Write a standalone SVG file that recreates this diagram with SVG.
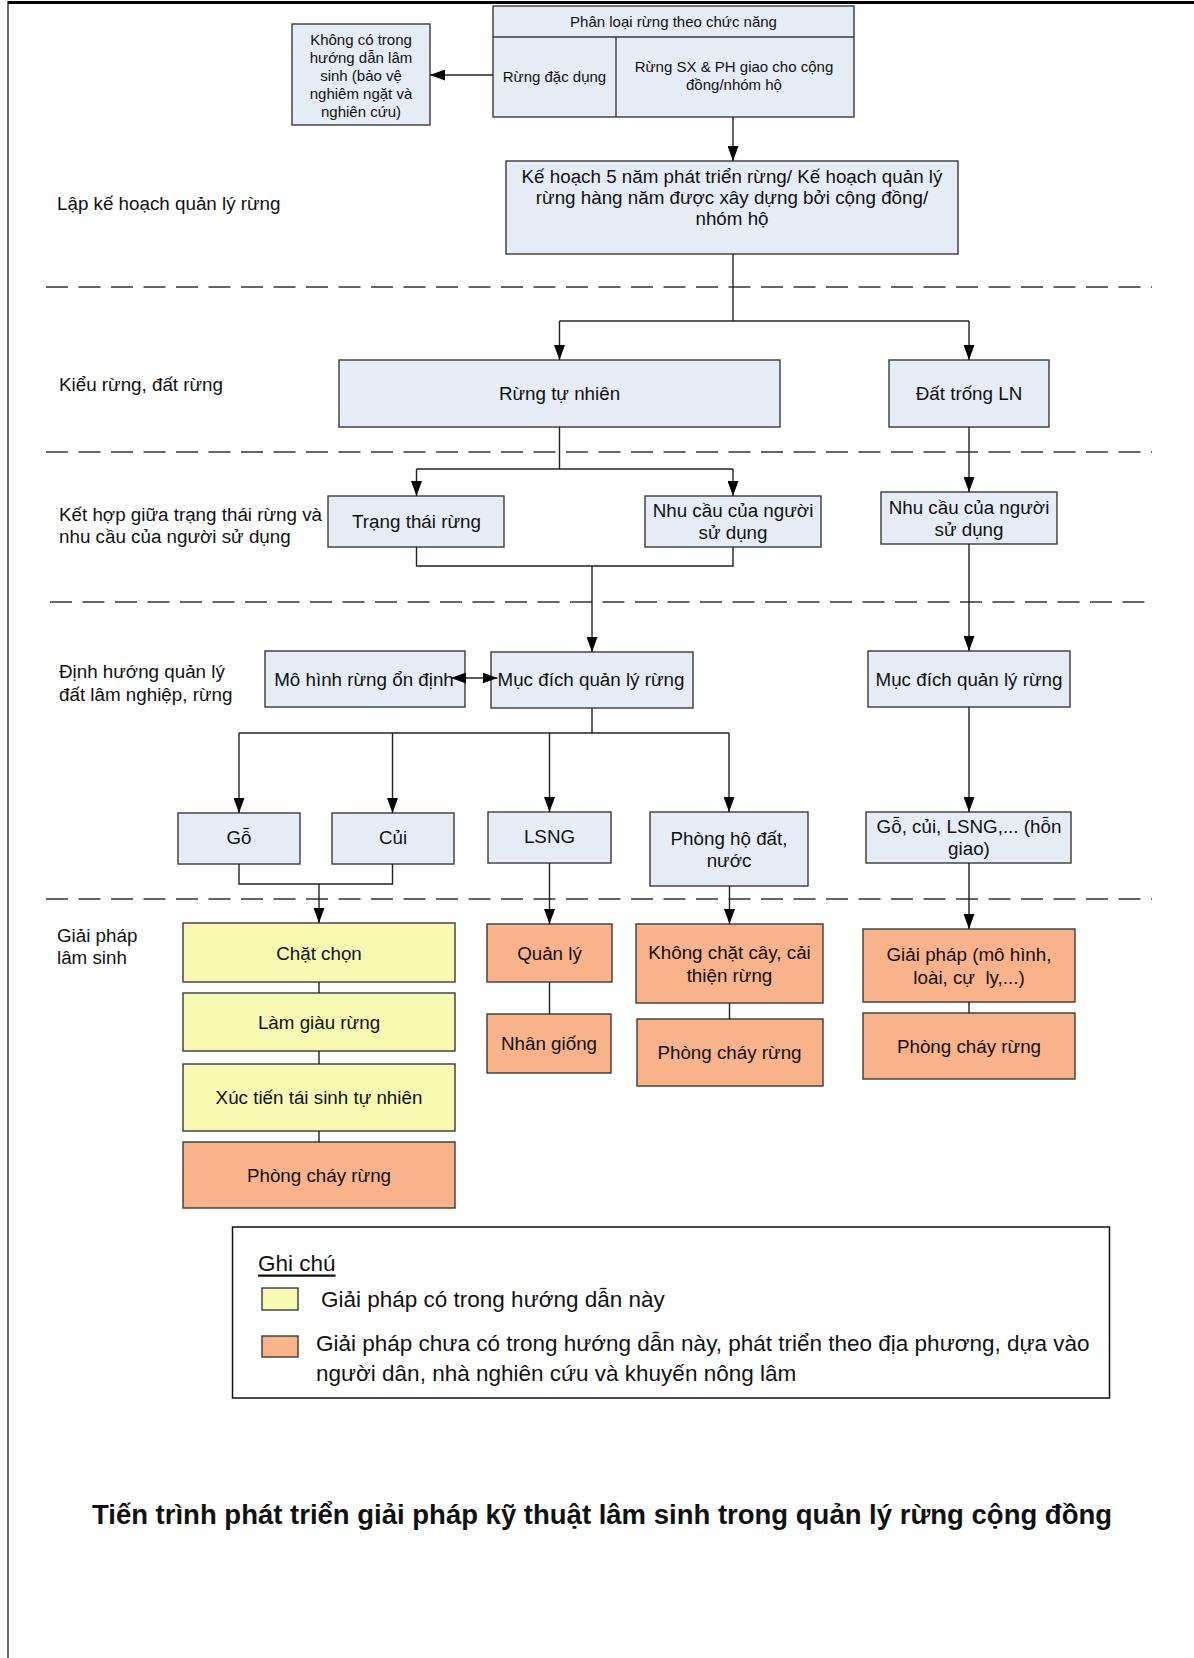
<svg xmlns="http://www.w3.org/2000/svg" width="1194" height="1658" viewBox="0 0 1194 1658">
<defs>
<style>
text{font-family:"Liberation Sans",Arial,sans-serif;fill:#111;}
.t{font-size:18.8px;text-anchor:middle;dominant-baseline:central;}
.s{font-size:15px;text-anchor:middle;dominant-baseline:central;}
.side{font-size:18.8px;dominant-baseline:central;}
.leg{font-size:22.5px;dominant-baseline:central;}
.title{font-size:27.5px;font-weight:bold;text-anchor:middle;dominant-baseline:central;}
.pre{white-space:pre;}
.b{fill:#E6ECF6;stroke:#3a3a3a;stroke-width:1.4;}
.y{fill:#F7F8B2;stroke:#3a3a3a;stroke-width:1.4;}
.o{fill:#F8B38A;stroke:#3a3a3a;stroke-width:1.4;}
.c{fill:none;stroke:#222;stroke-width:1.4;}
.a{marker-end:url(#ah);}
.dash{stroke:#333;stroke-width:1.5;stroke-dasharray:22 10.5;fill:none;}
</style>
<marker id="ah" markerUnits="userSpaceOnUse" markerWidth="15" markerHeight="11" refX="15" refY="5.5" orient="auto-start-reverse">
<path d="M0,0 L15,5.5 L0,11 z" fill="#000"/>
</marker>
</defs>
<rect x="0" y="0" width="1194" height="1658" fill="#fff"/>
<!-- frame -->
<line x1="8" y1="2.5" x2="1194" y2="2.5" stroke="#000" stroke-width="3"/>
<line x1="8" y1="1" x2="8" y2="1658" stroke="#000" stroke-width="1.2"/>

<!-- dashed separators -->
<g id="separators">
<line class="dash" x1="46" y1="287" x2="1152" y2="287"/>
<line class="dash" x1="46" y1="452" x2="1152" y2="452"/>
<line class="dash" x1="50" y1="602" x2="1152" y2="602"/>
<line class="dash" x1="46" y1="899" x2="1152" y2="899"/>
</g>

<!-- side labels -->
<g id="side-labels">
<text class="side" x="57" y="203">Lập kế hoạch quản lý rừng</text>
<text class="side" x="59" y="384">Kiểu rừng, đất rừng</text>
<text class="side" x="59" y="514">Kết hợp giữa trạng thái rừng và</text>
<text class="side" x="59" y="536">nhu cầu của người sử dụng</text>
<text class="side" x="59" y="671">Định hướng quản lý</text>
<text class="side" x="59" y="694">đất lâm nghiệp, rừng</text>
<text class="side" x="57" y="935">Giải pháp</text>
<text class="side" x="57" y="957">lâm sinh</text>
</g>

<!-- nodes -->
<g id="phan-loai">
<rect class="b" x="493" y="6" width="361" height="111"/>
<line x1="493" y1="37" x2="854" y2="37" stroke="#3a3a3a" stroke-width="1.4"/>
<line x1="616" y1="37" x2="616" y2="117" stroke="#3a3a3a" stroke-width="1.4"/>
<text class="s" x="673.5" y="21.5">Phân loại rừng theo chức năng</text>
<text class="s" x="554.5" y="76">Rừng đặc dụng</text>
<text class="s" x="734" y="66.5">Rừng SX &amp; PH giao cho cộng</text>
<text class="s" x="734" y="84.5">đồng/nhóm hộ</text>
</g>
<g id="khong-co">
<rect class="b" x="292" y="24" width="138" height="101"/>
<text class="s" x="361" y="39">Không có trong</text>
<text class="s" x="361" y="57">hướng dẫn lâm</text>
<text class="s" x="361" y="75">sinh (bảo vệ</text>
<text class="s" x="361" y="93">nghiêm ngặt và</text>
<text class="s" x="361" y="111">nghiên cứu)</text>
</g>
<g id="ke-hoach">
<rect class="b" x="506" y="161" width="452" height="93"/>
<text class="t" x="732" y="176">Kế hoạch 5 năm phát triển rừng/ Kế hoạch quản lý</text>
<text class="t" x="732" y="197">rừng hàng năm được xây dựng bởi cộng đồng/</text>
<text class="t" x="732" y="218.5">nhóm hộ</text>
</g>
<g id="rung-tu-nhien">
<rect class="b" x="339" y="360" width="441" height="67"/>
<text class="t" x="559.5" y="393">Rừng tự nhiên</text>
</g>
<g id="dat-trong">
<rect class="b" x="889" y="360" width="160" height="67"/>
<text class="t" x="969" y="393">Đất trống LN</text>
</g>
<g id="trang-thai">
<rect class="b" x="328" y="496" width="176" height="51"/>
<text class="t" x="416.5" y="521">Trạng thái rừng</text>
</g>
<g id="nhu-cau-1">
<rect class="b" x="645" y="496" width="176" height="51"/>
<text class="t" x="733" y="510">Nhu cầu của người</text>
<text class="t" x="733" y="532">sử dụng</text>
</g>
<g id="nhu-cau-2">
<rect class="b" x="881" y="492" width="176" height="52"/>
<text class="t" x="969" y="507">Nhu cầu của người</text>
<text class="t" x="969" y="529.5">sử dụng</text>
</g>
<g id="mo-hinh">
<rect class="b" x="265" y="651" width="200" height="56"/>
<text class="t" x="364" y="679">Mô hình rừng ổn định</text>
</g>
<g id="muc-dich-1">
<rect class="b" x="491" y="652" width="202" height="56"/>
<text class="t" x="591" y="679.5">Mục đích quản lý rừng</text>
</g>
<g id="muc-dich-2">
<rect class="b" x="868" y="651" width="202" height="56"/>
<text class="t" x="969" y="679">Mục đích quản lý rừng</text>
</g>
<g id="go">
<rect class="b" x="178" y="813" width="122" height="51"/>
<text class="t" x="239" y="837">Gỗ</text>
</g>
<g id="cui">
<rect class="b" x="332" y="813" width="122" height="51"/>
<text class="t" x="393" y="837">Củi</text>
</g>
<g id="lsng">
<rect class="b" x="488" y="812" width="123" height="51"/>
<text class="t" x="549.5" y="836">LSNG</text>
</g>
<g id="phong-ho">
<rect class="b" x="650" y="812" width="158" height="74"/>
<text class="t" x="729" y="838">Phòng hộ đất,</text>
<text class="t" x="729" y="860">nước</text>
</g>
<g id="go-cui-lsng">
<rect class="b" x="866" y="812" width="205" height="51"/>
<text class="t" x="969" y="826">Gỗ, củi, LSNG,... (hỗn</text>
<text class="t" x="969" y="848">giao)</text>
</g>
<g id="chat-chon">
<rect class="y" x="183" y="923" width="272" height="59"/>
<text class="t" x="319" y="953">Chặt chọn</text>
</g>
<g id="lam-giau">
<rect class="y" x="183" y="993" width="272" height="58"/>
<text class="t" x="319" y="1022">Làm giàu rừng</text>
</g>
<g id="xuc-tien">
<rect class="y" x="183" y="1064" width="272" height="67"/>
<text class="t" x="319" y="1097">Xúc tiến tái sinh tự nhiên</text>
</g>
<g id="phong-chay-1">
<rect class="o" x="183" y="1142" width="272" height="66"/>
<text class="t" x="319" y="1175">Phòng cháy rừng</text>
</g>
<g id="quan-ly">
<rect class="o" x="487" y="924" width="125" height="58"/>
<text class="t" x="549.5" y="953">Quản lý</text>
</g>
<g id="nhan-giong">
<rect class="o" x="487" y="1014" width="124" height="59"/>
<text class="t" x="549" y="1043">Nhân giống</text>
</g>
<g id="khong-chat">
<rect class="o" x="636" y="924" width="187" height="79"/>
<text class="t" x="729.5" y="952">Không chặt cây, cải</text>
<text class="t" x="729.5" y="975">thiện rừng</text>
</g>
<g id="phong-chay-2">
<rect class="o" x="637" y="1019" width="186" height="67"/>
<text class="t" x="729.5" y="1052">Phòng cháy rừng</text>
</g>
<g id="giai-phap">
<rect class="o" x="863" y="929" width="212" height="73"/>
<text class="t" x="969" y="954">Giải pháp (mô hình,</text>
<text class="t pre" x="969" y="977">loài, cự  ly,...)</text>
</g>
<g id="phong-chay-3">
<rect class="o" x="863" y="1013" width="212" height="66"/>
<text class="t" x="969" y="1046">Phòng cháy rừng</text>
</g>

<!-- connectors -->
<g id="connectors">
<line class="c a" x1="493" y1="75" x2="430" y2="75"/>
<line class="c a" x1="733" y1="117" x2="733" y2="161"/>
<polyline class="c" points="733,254 733,321"/>
<polyline class="c" points="559.5,321 969,321"/>
<line class="c a" x1="559.5" y1="321" x2="559.5" y2="360"/>
<line class="c a" x1="969" y1="321" x2="969" y2="360"/>
<polyline class="c" points="559.5,427 559.5,469"/>
<polyline class="c" points="416.5,469 733,469"/>
<line class="c a" x1="416.5" y1="469" x2="416.5" y2="496"/>
<line class="c a" x1="733" y1="469" x2="733" y2="496"/>
<polyline class="c" points="416.5,547 416.5,566 733,566 733,547"/>
<line class="c a" x1="592" y1="566" x2="592" y2="652"/>
<line class="c a" x1="969" y1="427" x2="969" y2="492"/>
<line class="c a" x1="969" y1="544" x2="969" y2="651"/>
<line class="c" x1="451" y1="678" x2="497.5" y2="678" marker-start="url(#ah)" marker-end="url(#ah)"/>
<polyline class="c" points="592,708 592,733"/>
<polyline class="c" points="239,733 729,733"/>
<line class="c a" x1="239" y1="733" x2="239" y2="813"/>
<line class="c a" x1="392.5" y1="733" x2="392.5" y2="813"/>
<line class="c a" x1="549.5" y1="733" x2="549.5" y2="812"/>
<line class="c a" x1="729" y1="733" x2="729" y2="812"/>
<line class="c a" x1="969" y1="707" x2="969" y2="812"/>
<polyline class="c" points="239,864 239,884 392.5,884 392.5,864"/>
<line class="c a" x1="319" y1="884" x2="319" y2="923"/>
<line class="c a" x1="549.5" y1="863" x2="549.5" y2="924"/>
<line class="c a" x1="729.5" y1="886" x2="729.5" y2="924"/>
<line class="c a" x1="969" y1="863" x2="969" y2="929"/>
<line class="c" x1="319" y1="982" x2="319" y2="993"/>
<line class="c" x1="319" y1="1051" x2="319" y2="1064"/>
<line class="c" x1="319" y1="1131" x2="319" y2="1142"/>
<line class="c" x1="549.5" y1="982" x2="549.5" y2="1014"/>
<line class="c" x1="729.5" y1="1003" x2="729.5" y2="1019"/>
<line class="c" x1="969" y1="1002" x2="969" y2="1013"/>
</g>

<!-- legend -->
<g id="legend">
<rect x="232.5" y="1227" width="877" height="171" fill="#fff" stroke="#111" stroke-width="1.5"/>
<text class="leg" x="258" y="1263" text-decoration="underline">Ghi chú</text>
<rect class="y" x="262" y="1288" width="36" height="22"/>
<text class="leg" x="321" y="1299">Giải pháp có trong hướng dẫn này</text>
<rect class="o" x="262" y="1336" width="36" height="21"/>
<text class="leg" x="316" y="1343">Giải pháp chưa có trong hướng dẫn này, phát triển theo địa phương, dựa vào</text>
<text class="leg" x="316" y="1373">người dân, nhà nghiên cứu và khuyến nông lâm</text>
</g>

<text class="title" x="602" y="1514">Tiến trình phát triển giải pháp kỹ thuật lâm sinh trong quản lý rừng cộng đồng</text>
</svg>
